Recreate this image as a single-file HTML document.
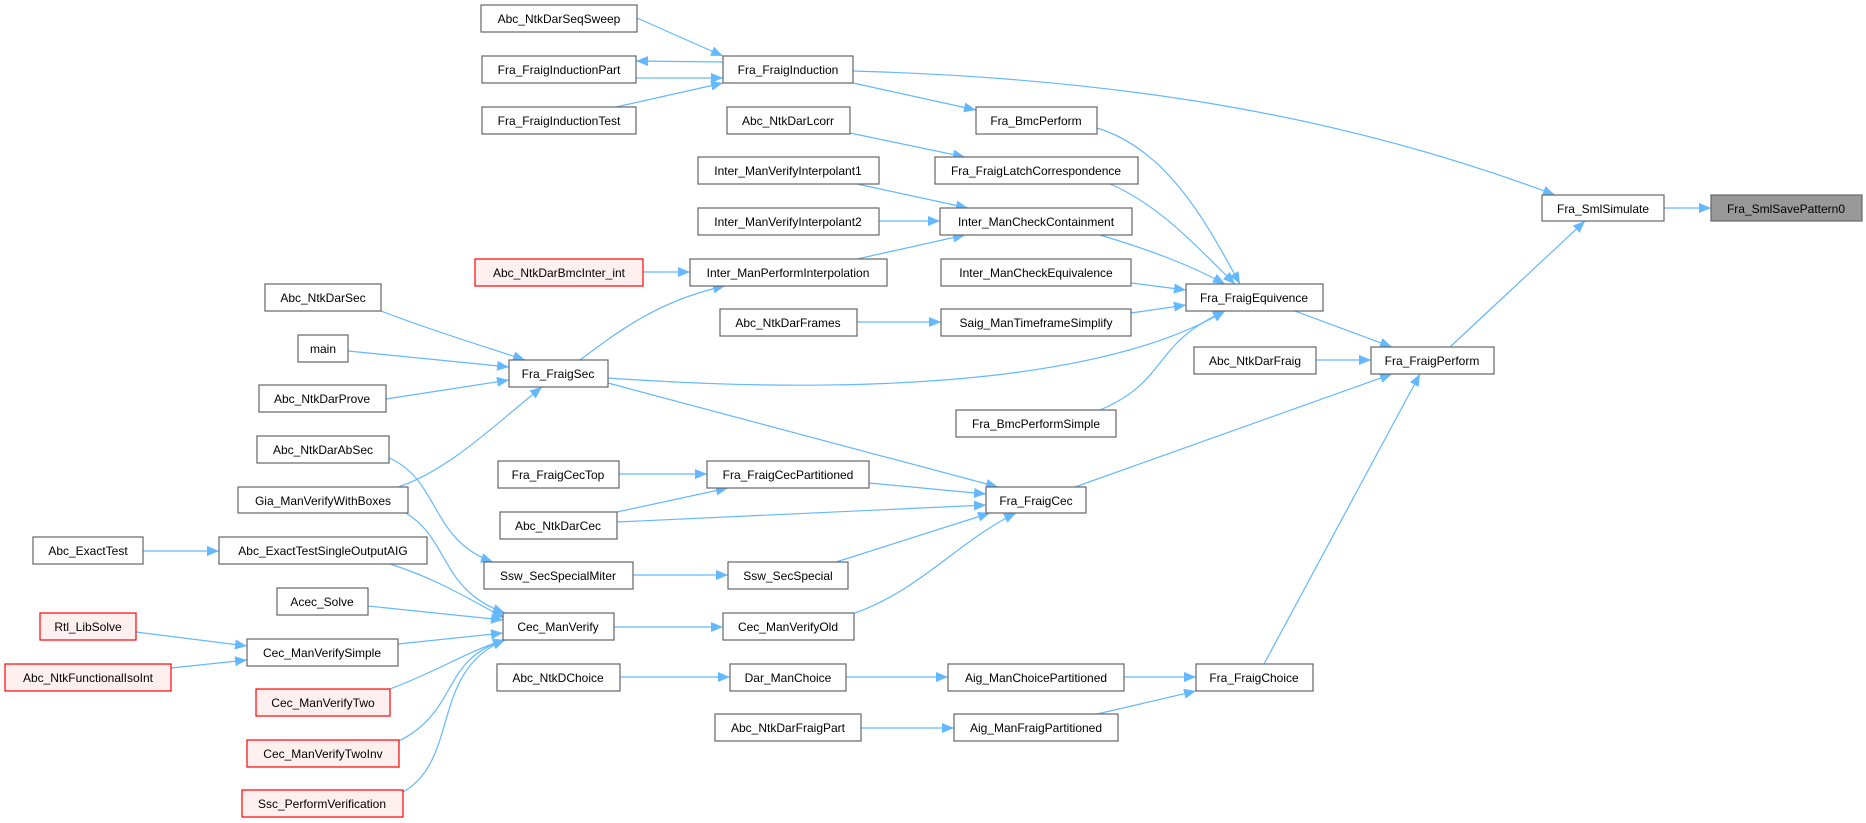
<!DOCTYPE html>
<html><head><meta charset="utf-8"><style>
html,body{margin:0;padding:0;background:#fff;}
svg{display:block;}
text{font-family:"Liberation Sans",Arial,sans-serif;font-size:12px;fill:#000;}
.n{fill:#fff;stroke:#666;stroke-width:1.2;}
.r{fill:#fff0f0;stroke:#ff0000;stroke-width:1.2;}
.g{fill:#999;stroke:#666;stroke-width:1.2;}
.e{fill:none;stroke:#63b8ff;stroke-width:1.2;marker-end:url(#a);}
</style></head><body>
<svg width="1866" height="823" viewBox="0 0 1866 823" xmlns="http://www.w3.org/2000/svg">
<defs><marker id="a" markerUnits="userSpaceOnUse" markerWidth="14" markerHeight="12" refX="12" refY="5" orient="auto"><path d="M0,0 L12,5 L0,10 Z" fill="#63b8ff"/></marker></defs>
<g>
<path class="e" d="M637,18 L723,56"/>
<path class="e" d="M723,62 L636,61"/>
<path class="e" d="M636,78 L723,78"/>
<path class="e" d="M616,107 L723,83"/>
<path class="e" d="M853,71 C1100,78 1330,110 1555,195"/>
<path class="e" d="M853,83 L976,110"/>
<path class="e" d="M850,133 L965,157"/>
<path class="e" d="M857,184 L968,208"/>
<path class="e" d="M879,221 L940,221"/>
<path class="e" d="M857,259 L965,235"/>
<path class="e" d="M643,272 L690,272"/>
<path class="e" d="M857,322 L941,322"/>
<path class="e" d="M1097,128 C1170,150 1210,230 1240,284"/>
<path class="e" d="M1110,184 C1160,205 1200,250 1235,284"/>
<path class="e" d="M1100,235 C1150,250 1190,265 1225,284"/>
<path class="e" d="M1131,283 L1186,290"/>
<path class="e" d="M1131,313 L1186,305"/>
<path class="e" d="M608,378 C850,395 1100,385 1225,311"/>
<path class="e" d="M1100,410 C1170,380 1150,345 1225,311"/>
<path class="e" d="M1295,311 L1392,347"/>
<path class="e" d="M1316,360 L1371,360"/>
<path class="e" d="M1450,347 L1585,221"/>
<path class="e" d="M1664,208 L1711,208"/>
<path class="e" d="M1075,487 L1392,374"/>
<path class="e" d="M1264,664 L1420,374"/>
<path class="e" d="M381,311 C430,330 480,345 525,360"/>
<path class="e" d="M348,351 L509,367"/>
<path class="e" d="M386,399 L509,380"/>
<path class="e" d="M580,360 C620,330 660,300 725,286"/>
<path class="e" d="M398,487 C450,470 500,420 542,387"/>
<path class="e" d="M608,383 L998,487"/>
<path class="e" d="M619,474 L707,474"/>
<path class="e" d="M617,512 L728,488"/>
<path class="e" d="M617,522 L986,505"/>
<path class="e" d="M869,483 L986,494"/>
<path class="e" d="M836,562 L990,513"/>
<path class="e" d="M855,613 C920,590 960,540 1016,513"/>
<path class="e" d="M389,458 C440,480 430,540 493,562"/>
<path class="e" d="M633,575 L728,575"/>
<path class="e" d="M406,513 C450,540 440,590 505,613"/>
<path class="e" d="M390,564 C440,580 470,600 505,618"/>
<path class="e" d="M143,551 L219,551"/>
<path class="e" d="M368,606 L503,620"/>
<path class="e" d="M136,632 L247,646"/>
<path class="e" d="M171,668 L247,660"/>
<path class="e" d="M398,644 L503,633"/>
<path class="e" d="M390,689 C440,670 470,650 505,640"/>
<path class="e" d="M399,741 C460,710 440,660 505,640"/>
<path class="e" d="M403,792 C460,760 430,670 505,640"/>
<path class="e" d="M614,627 L723,627"/>
<path class="e" d="M620,677 L730,677"/>
<path class="e" d="M846,677 L948,677"/>
<path class="e" d="M861,728 L954,728"/>
<path class="e" d="M1124,677 L1196,677"/>
<path class="e" d="M1097,714 L1196,691"/>
</g>
<g text-anchor="middle">
<rect class="n" x="481" y="5" width="156" height="27"/><text x="559" y="23">Abc_NtkDarSeqSweep</text>
<rect class="n" x="482" y="56" width="154" height="27"/><text x="559" y="74">Fra_FraigInductionPart</text>
<rect class="n" x="482" y="107" width="154" height="27"/><text x="559" y="125">Fra_FraigInductionTest</text>
<rect class="n" x="723" y="56" width="130" height="27"/><text x="788" y="74">Fra_FraigInduction</text>
<rect class="n" x="727" y="107" width="123" height="27"/><text x="788" y="125">Abc_NtkDarLcorr</text>
<rect class="n" x="698" y="157" width="181" height="27"/><text x="788" y="175">Inter_ManVerifyInterpolant1</text>
<rect class="n" x="698" y="208" width="181" height="27"/><text x="788" y="226">Inter_ManVerifyInterpolant2</text>
<rect class="r" x="475" y="259" width="168" height="27"/><text x="559" y="277">Abc_NtkDarBmcInter_int</text>
<rect class="n" x="690" y="259" width="197" height="27"/><text x="788" y="277">Inter_ManPerformInterpolation</text>
<rect class="n" x="265" y="284" width="116" height="27"/><text x="323" y="302">Abc_NtkDarSec</text>
<rect class="n" x="298" y="335" width="50" height="27"/><text x="323" y="353">main</text>
<rect class="n" x="259" y="385" width="127" height="27"/><text x="322" y="403">Abc_NtkDarProve</text>
<rect class="n" x="509" y="360" width="99" height="27"/><text x="558" y="378">Fra_FraigSec</text>
<rect class="n" x="720" y="309" width="137" height="27"/><text x="788" y="327">Abc_NtkDarFrames</text>
<rect class="n" x="976" y="107" width="121" height="27"/><text x="1036" y="125">Fra_BmcPerform</text>
<rect class="n" x="935" y="157" width="203" height="27"/><text x="1036" y="175">Fra_FraigLatchCorrespondence</text>
<rect class="n" x="940" y="208" width="192" height="27"/><text x="1036" y="226">Inter_ManCheckContainment</text>
<rect class="n" x="941" y="259" width="190" height="27"/><text x="1036" y="277">Inter_ManCheckEquivalence</text>
<rect class="n" x="941" y="309" width="190" height="27"/><text x="1036" y="327">Saig_ManTimeframeSimplify</text>
<rect class="n" x="1186" y="284" width="137" height="27"/><text x="1254" y="302">Fra_FraigEquivence</text>
<rect class="n" x="1194" y="347" width="122" height="27"/><text x="1255" y="365">Abc_NtkDarFraig</text>
<rect class="n" x="1371" y="347" width="123" height="27"/><text x="1432" y="365">Fra_FraigPerform</text>
<rect class="n" x="1542" y="195" width="122" height="26"/><text x="1603" y="213">Fra_SmlSimulate</text>
<rect class="g" x="1711" y="195" width="151" height="26"/><text x="1786" y="213">Fra_SmlSavePattern0</text>
<rect class="n" x="257" y="436" width="132" height="27"/><text x="323" y="454">Abc_NtkDarAbSec</text>
<rect class="n" x="238" y="487" width="170" height="26"/><text x="323" y="505">Gia_ManVerifyWithBoxes</text>
<rect class="n" x="33" y="537" width="110" height="27"/><text x="88" y="555">Abc_ExactTest</text>
<rect class="n" x="219" y="537" width="208" height="27"/><text x="323" y="555">Abc_ExactTestSingleOutputAIG</text>
<rect class="n" x="277" y="588" width="91" height="27"/><text x="322" y="606">Acec_Solve</text>
<rect class="r" x="40" y="613" width="96" height="27"/><text x="88" y="631">Rtl_LibSolve</text>
<rect class="r" x="5" y="664" width="166" height="27"/><text x="88" y="682">Abc_NtkFunctionalIsoInt</text>
<rect class="n" x="247" y="639" width="151" height="27"/><text x="322" y="657">Cec_ManVerifySimple</text>
<rect class="r" x="256" y="689" width="134" height="27"/><text x="323" y="707">Cec_ManVerifyTwo</text>
<rect class="r" x="247" y="740" width="152" height="27"/><text x="323" y="758">Cec_ManVerifyTwoInv</text>
<rect class="r" x="242" y="790" width="161" height="27"/><text x="322" y="808">Ssc_PerformVerification</text>
<rect class="n" x="498" y="461" width="121" height="27"/><text x="558" y="479">Fra_FraigCecTop</text>
<rect class="n" x="500" y="512" width="117" height="27"/><text x="558" y="530">Abc_NtkDarCec</text>
<rect class="n" x="484" y="562" width="149" height="27"/><text x="558" y="580">Ssw_SecSpecialMiter</text>
<rect class="n" x="503" y="613" width="111" height="27"/><text x="558" y="631">Cec_ManVerify</text>
<rect class="n" x="497" y="664" width="123" height="27"/><text x="558" y="682">Abc_NtkDChoice</text>
<rect class="n" x="707" y="461" width="162" height="27"/><text x="788" y="479">Fra_FraigCecPartitioned</text>
<rect class="n" x="728" y="562" width="120" height="27"/><text x="788" y="580">Ssw_SecSpecial</text>
<rect class="n" x="723" y="613" width="131" height="27"/><text x="788" y="631">Cec_ManVerifyOld</text>
<rect class="n" x="730" y="664" width="116" height="27"/><text x="788" y="682">Dar_ManChoice</text>
<rect class="n" x="715" y="714" width="146" height="27"/><text x="788" y="732">Abc_NtkDarFraigPart</text>
<rect class="n" x="956" y="410" width="160" height="27"/><text x="1036" y="428">Fra_BmcPerformSimple</text>
<rect class="n" x="986" y="487" width="100" height="26"/><text x="1036" y="505">Fra_FraigCec</text>
<rect class="n" x="948" y="664" width="176" height="27"/><text x="1036" y="682">Aig_ManChoicePartitioned</text>
<rect class="n" x="954" y="714" width="164" height="27"/><text x="1036" y="732">Aig_ManFraigPartitioned</text>
<rect class="n" x="1196" y="664" width="117" height="27"/><text x="1254" y="682">Fra_FraigChoice</text>
</g>
</svg>
</body></html>
